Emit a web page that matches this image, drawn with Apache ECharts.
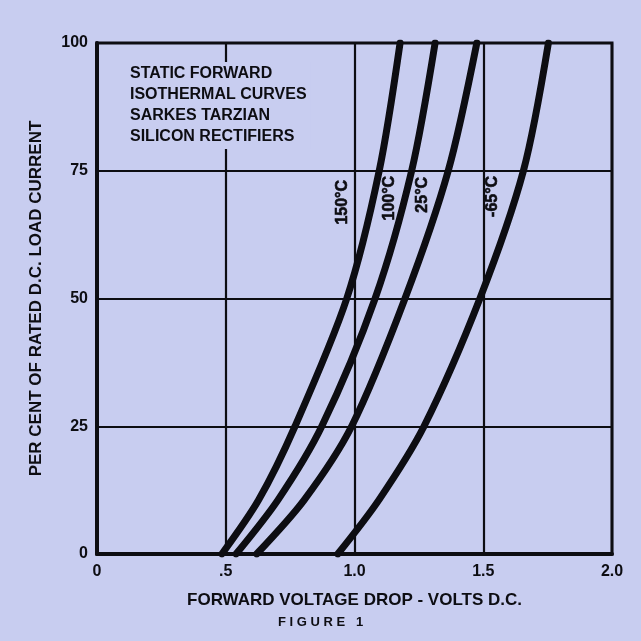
<!DOCTYPE html>
<html>
<head>
<meta charset="utf-8">
<script src="https://cdn.jsdelivr.net/npm/echarts@6/dist/echarts.min.js"></script>
<style>
  html, body { margin: 0; padding: 0; background: #c8cdf0; }
  #chart { width: 641px; height: 641px; }
</style>
</head>
<body>
<div id="chart"></div>
<script>
// Forward current levels (per cent of rated load) at which voltages were taken
const currentPct = [0, 10.6, 25, 50, 75, 100];

// Forward voltage drop (V) for each junction temperature at those current levels
const volts150C = [0.485, 0.628, 0.769, 0.970, 1.096, 1.177];
const volts100C = [0.540, 0.703, 0.873, 1.080, 1.222, 1.313];
const volts25C = [0.620, 0.805, 0.989, 1.196, 1.364, 1.475];
const voltsMinus65C = [0.935, 1.095, 1.270, 1.487, 1.656, 1.753];

// Curve names and where the top end of each rotated name sits (volts, per cent)
const curveNames = ['150°C', '100°C', '25°C', '-65°C'];
const curveNameX = [0.955, 1.138, 1.266, 1.538];
const curveNameY = [73.2, 74.0, 73.8, 74.0];

// Axis tick labels
const xTicks = [0, 0.5, 1.0, 1.5, 2.0];
const xTickLabels = ['0', '.5', '1.0', '1.5', '2.0'];
const yTicks = [0, 25, 50, 75, 100];
const yTickLabels = ['0', '25', '50', '75', '100'];

const titleLines = ['STATIC FORWARD', 'ISOTHERMAL CURVES', 'SARKES TARZIAN', 'SILICON RECTIFIERS'];

const BG = '#c8cdf0';
const INK = '#0d0d12';
const FONT = 'Liberation Sans, Arial, sans-serif';

function pairs(xs, ys) { return xs.map((v, i) => [v, ys[i]]); }

function curve(name, volts) {
  return {
    name: name,
    type: 'line',
    data: pairs(volts, currentPct),
    smooth: 0.3,
    showSymbol: false,
    symbol: 'none',
    lineStyle: { color: INK, width: 7, cap: 'round' },
    z: 5,
    animation: false
  };
}

const chart = echarts.init(document.getElementById('chart'), null, { renderer: 'canvas' });

chart.setOption({
  backgroundColor: BG,
  animation: false,
  grid: {
    left: 97, right: 29, top: 43, bottom: 87,
    show: true, borderColor: INK, borderWidth: 3, backgroundColor: 'transparent'
  },
  xAxis: {
    type: 'value', min: 0, max: 2, interval: 0.5,
    name: 'FORWARD VOLTAGE DROP - VOLTS D.C.',
    nameLocation: 'middle', nameGap: 38,
    nameTextStyle: { color: INK, fontFamily: FONT, fontSize: 17, fontWeight: 'bold' },
    axisLine: { show: true, lineStyle: { color: INK, width: 4 } },
    axisTick: { show: false },
    axisLabel: {
      color: INK, fontFamily: FONT, fontSize: 16, fontWeight: 'bold', margin: 10,
      formatter: v => { const i = xTicks.findIndex(t => Math.abs(t - v) < 1e-6); return i >= 0 ? xTickLabels[i] : ''; }
    },
    splitLine: { show: true, lineStyle: { color: INK, width: 2.2 } }
  },
  yAxis: {
    type: 'value', min: 0, max: 100, interval: 25,
    name: 'PER CENT OF RATED D.C. LOAD CURRENT',
    nameLocation: 'middle', nameGap: 52, nameRotate: 90,
    nameTextStyle: { color: INK, fontFamily: FONT, fontSize: 17, fontWeight: 'bold' },
    axisLine: { show: true, lineStyle: { color: INK, width: 4 } },
    axisTick: { show: false },
    axisLabel: {
      color: INK, fontFamily: FONT, fontSize: 16, fontWeight: 'bold', margin: 9,
      formatter: v => { const i = yTicks.indexOf(v); return i >= 0 ? yTickLabels[i] : ''; }
    },
    splitLine: { show: true, lineStyle: { color: INK, width: 2.2 } }
  },
  series: [
    curve('150°C', volts150C),
    curve('100°C', volts100C),
    curve('25°C', volts25C),
    curve('-65°C', voltsMinus65C)
  ]
});

// Temperature names, rotated to read upward, placed through the axis scales
const nameTexts = curveNames.map((n, i) => {
  const p = chart.convertToPixel({ gridIndex: 0 }, [curveNameX[i], curveNameY[i]]);
  return {
    type: 'text', x: p[0], y: p[1], rotation: Math.PI / 2, z: 10,
    style: {
      text: n, fill: INK, font: 'bold 16px ' + FONT,
      stroke: INK, lineWidth: 0.6,
      align: 'right', verticalAlign: 'middle'
    }
  };
});

chart.setOption({
  graphic: [
    {
      type: 'text', left: 128, top: 62, z: 10,
      style: {
        text: titleLines.join('\n'),
        font: 'bold 16px ' + FONT,
        fill: INK, lineHeight: 21,
        backgroundColor: BG, padding: [1, 4, 2, 2]
      }
    },
    {
      type: 'text', left: 'center', top: 616, z: 10,
      style: {
        text: 'F I G U R E   1',
        font: 'bold 13px ' + FONT,
        fill: INK
      }
    }
  ].concat(nameTexts)
});
</script>
</body>
</html>
